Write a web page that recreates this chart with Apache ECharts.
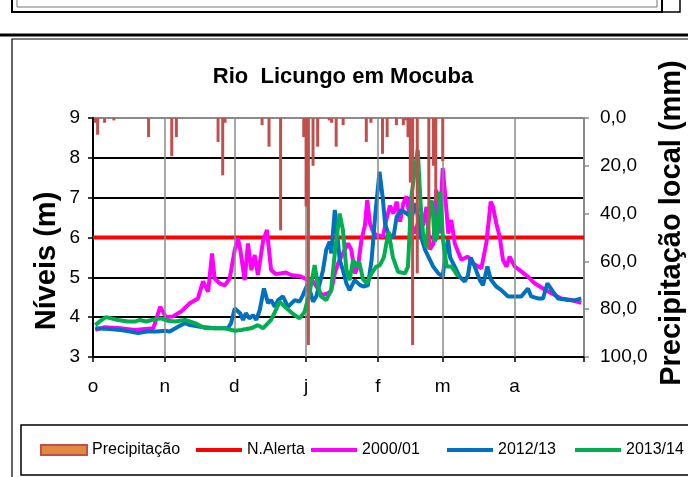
<!DOCTYPE html>
<html>
<head>
<meta charset="utf-8">
<script src="https://cdn.jsdelivr.net/npm/echarts@6/dist/echarts.min.js"></script>
<style>
  html, body { margin: 0; padding: 0; background: #fff; }
  #chart { width: 688px; height: 477px; }
</style>
</head>
<body>
<div id="chart"></div>
<script>
// dias contados a partir de 1 de outubro
const monthStarts = [0, 31, 61, 92, 123, 151, 182, 212];
const monthLabels = ['o', 'n', 'd', 'j', 'f', 'm', 'a'];
const alertLevel = 6;

// precipitação local (mm) [dia, mm]
const precip = [
  [1, 2], [2, 7], [5, 2], [9, 1], [24, 8], [34, 16], [36, 8],
  [54, 10], [56, 24], [57, 2], [73, 3], [76, 12], [81, 47],
  [91, 8], [92, 37], [93, 95], [95, 20], [97, 12], [102, 1], [103, 2],
  [105, 12], [108, 3], [118, 10], [120, 2], [125, 15], [127, 8],
  [131, 3], [134, 3], [135, 1], [136, 8], [137, 27], [138, 95], [140, 65],
  [145, 55], [147, 20], [148, 35], [151, 18]
];

// níveis (m) [dia, nível]
const s2000 = [
  [1, 3.68], [5, 3.75], [12, 3.72], [18, 3.68], [26, 3.72], [29, 4.26], [31.5, 4.0],
  [34.5, 4.02], [38, 4.14], [41.8, 4.35], [45.3, 4.47], [47.5, 4.9], [49.7, 4.64],
  [51.4, 5.6], [52.5, 4.97], [54.7, 4.85], [56.9, 4.8], [59, 4.97], [61.2, 5.69],
  [62.6, 5.98], [63.6, 5.69], [65.5, 4.93], [66.9, 5.85], [68.4, 5.18], [69.8, 5.56],
  [71.2, 5.06], [73.4, 5.9], [75.1, 6.19], [76.9, 5.18], [79, 5.08], [83.3, 5.12],
  [85.5, 5.06], [89.8, 5.02], [92, 4.95], [95, 4.9], [97.2, 4.7], [98.9, 4.55],
  [101.5, 4.6], [102.8, 4.65], [104.4, 5.1], [105.8, 5.35], [107.9, 5.6], [110.1, 5.85],
  [111.5, 5.7], [113.1, 5.1], [114.4, 5.27], [115.9, 5.94], [117.4, 6.3], [118.4, 6.94],
  [119.6, 6.35], [120.9, 6.15], [122.4, 6.05], [123.9, 6.05], [125.2, 6.02], [126.6, 6.43],
  [128.2, 6.8], [129.7, 6.6], [131.1, 6.9], [132.6, 6.4], [134, 6.86], [135.4, 7.03],
  [136.9, 6.44], [139, 6.1], [141.2, 6.55], [142.5, 6.3], [144, 6.77], [145.4, 5.7],
  [147, 5.85], [148.2, 7.2], [149.6, 6.1], [151, 7.74], [152, 7.1], [153.4, 6.1],
  [154.7, 6.44], [156.2, 5.85], [159, 5.44], [161.9, 5.52], [164.1, 5.35], [167.7, 5.23],
  [169.8, 5.85], [170.9, 6.44], [171.7, 6.9], [172.7, 6.77], [174.1, 6.36], [175.6, 6.02],
  [177, 5.44], [178.5, 5.27], [179.9, 5.52], [182.1, 5.27], [184.2, 5.18], [187.8, 5.02],
  [190.7, 4.85], [194.3, 4.72], [197.9, 4.6], [202.2, 4.47], [206.5, 4.43], [210.8, 4.36]
];

const s2012 = [
  [1, 3.72], [7, 3.7], [12, 3.68], [16, 3.64], [19.4, 3.6], [23.3, 3.64], [27.6, 3.64],
  [31, 3.66], [33.2, 3.64], [36.7, 3.76], [39.7, 3.85], [41.9, 3.8], [46.2, 3.76],
  [52.7, 3.72], [58.3, 3.72], [59.6, 3.85], [61.2, 4.22], [63.5, 4.1], [64.8, 3.93],
  [66, 4.1], [67.5, 3.97], [69.1, 4.05], [70.5, 3.93], [72, 4.18], [73.8, 4.72],
  [75.6, 4.35], [76.9, 4.43], [78.5, 4.26], [79.9, 4.43], [82, 4.52], [84.2, 4.26],
  [87.1, 4.43], [89.2, 4.39], [90.7, 4.56], [92.8, 4.85], [95, 4.39], [96.4, 4.52],
  [97.9, 4.85], [99.3, 5.18], [100.7, 5.69], [102.2, 5.9], [102.9, 5.6], [104.4, 6.69],
  [105.1, 6.3], [106.5, 5.44], [107.9, 5.18], [109.4, 4.85], [110.8, 4.68], [113, 4.93],
  [115.2, 4.81], [116.6, 4.77], [118.7, 4.8], [120.3, 5.44], [121.8, 6.52], [123.7, 7.65],
  [125.1, 7.0], [126.1, 6.35], [127.5, 6.1], [129.7, 6.0], [131.1, 6.52], [133.3, 6.69],
  [135.4, 6.6], [137.6, 6.52], [139.5, 6.86], [141.2, 6.1], [143.4, 5.69], [144.8, 5.52],
  [146.9, 5.27], [149.1, 5.1], [151, 5.02], [152.4, 5.69], [153.3, 5.95], [154.2, 5.5],
  [156.2, 5.27], [158.3, 5.02], [160.5, 4.89], [161.9, 5.05], [163.1, 5.5], [164.8, 5.27],
  [167, 4.93], [168.4, 4.8], [170.3, 5.27], [171.7, 4.95], [174.1, 4.77], [176.3, 4.68],
  [179.2, 4.52], [184.9, 4.52], [187.8, 4.72], [189.2, 4.52], [192.1, 4.47], [194.3, 4.47],
  [196.2, 4.85], [198.6, 4.64], [200.8, 4.47], [205.1, 4.43], [208, 4.42], [210.8, 4.47]
];

const s2013 = [
  [1, 3.8], [3, 3.9], [5.6, 4.0], [10.8, 3.93], [15.1, 3.89], [18.1, 3.89], [20.3, 3.93],
  [22.9, 3.89], [26.8, 3.95], [29.4, 3.97], [32.4, 3.91], [35.4, 3.89], [39.7, 3.93],
  [44, 3.85], [48.4, 3.72], [52.7, 3.72], [57, 3.72], [61.2, 3.66], [63.9, 3.68],
  [68.2, 3.72], [71.2, 3.8], [73.4, 3.72], [76.9, 3.93], [79, 4.18], [80.6, 4.39],
  [82.8, 4.26], [87.1, 4.05], [89.2, 3.97], [91.4, 4.14], [93.6, 4.64], [95.7, 5.31],
  [97.2, 4.77], [98.4, 4.52], [100.7, 4.43], [102.8, 4.68], [104.4, 5.6], [106.5, 6.6],
  [107.9, 6.19], [109.4, 5.2], [110.8, 4.93], [112.3, 5.44], [113.7, 5.27], [114.9, 5.4],
  [116.6, 4.95], [118.2, 4.85], [120.3, 5.1], [122.3, 5.27], [123.8, 5.3], [125.6, 5.5],
  [127.6, 6.15], [129.5, 5.5], [131.7, 5.14], [134.7, 5.1], [136, 5.27], [137.4, 7.0],
  [138.6, 7.53], [140.2, 8.2], [141.6, 6.69], [142.5, 6.1], [144, 5.75], [145.6, 6.9],
  [146.5, 6.9], [147.5, 5.9], [148.5, 6.0], [149.8, 7.15], [151.2, 5.9], [152.7, 5.27],
  [154.7, 5.27], [156.2, 5.15], [157.6, 5.02]
];

const chart = echarts.init(document.getElementById('chart'));
const font = "'Liberation Sans', Arial, sans-serif";
const lineIcon = 'path://M0,0 H46 V4 H0 Z';

// uma legenda por item, para acertar o espaçamento da legenda original
const legendItems = [
  { name: 'Precipitação', left: 35, icon: 'rect', itemStyle: { color: '#E0893F', borderColor: '#C0504D', borderWidth: 2 } },
  { name: 'N.Alerta', left: 191, icon: lineIcon },
  { name: '2000/01', left: 306, icon: lineIcon },
  { name: '2012/13', left: 442, icon: lineIcon },
  { name: '2013/14', left: 570, icon: lineIcon }
];

chart.setOption({
  animation: false,
  backgroundColor: '#fff',
  textStyle: { fontFamily: font, color: '#000' },
  title: {
    text: 'Rio  Licungo em Mocuba',
    left: 338, top: 61, textAlign: 'center',
    textStyle: { fontSize: 22, fontWeight: 'bold', fontFamily: font, color: '#000' }
  },
  grid: { left: 93, right: 104, top: 118, bottom: 120 },
  legend: legendItems.map(it => ({
    left: it.left, top: 437,
    itemWidth: 46, itemHeight: 10,
    textStyle: { fontSize: 16, fontFamily: font, color: '#000' },
    data: [{ name: it.name, icon: it.icon, itemStyle: it.itemStyle }]
  })),
  xAxis: {
    type: 'value', min: 0, max: 212,
    axisLine: { onZero: false, lineStyle: { color: '#000', width: 2 } },
    axisTick: { customValues: monthStarts, length: 5, lineStyle: { color: '#000', width: 1.5 } },
    axisLabel: {
      customValues: monthStarts.slice(0, 7), fontSize: 19, margin: 20, color: '#000',
      formatter: v => monthLabels[monthStarts.indexOf(v)] || ''
    },
    splitLine: { show: false }
  },
  yAxis: [{
    type: 'value', min: 3, max: 9, interval: 1,
    axisLine: { show: true, onZero: false, lineStyle: { color: '#000', width: 2 } },
    axisTick: { show: true, length: 5, lineStyle: { color: '#000', width: 1.5 } },
    axisLabel: { fontSize: 19, margin: 13, color: '#000' },
    splitLine: { lineStyle: { color: ['#000', '#000', '#000', '#000', '#000', '#000', '#8a8a8a'], width: 2 } }
  }, {
    type: 'value', position: 'right', inverse: true, min: 0, max: 100, interval: 20,
    axisLine: { show: true, onZero: false, lineStyle: { color: '#8a8a8a', width: 2 } },
    axisTick: { show: true, length: 5, lineStyle: { color: '#8a8a8a', width: 1.5 } },
    axisLabel: { fontSize: 19, margin: 16, color: '#000', formatter: v => v.toFixed(1).replace('.', ',') },
    splitLine: { show: false }
  }],
  graphic: [
    { type: 'rect', shape: { x: 12, y: -4, width: 650, height: 16 }, style: { fill: 'none', stroke: '#000', lineWidth: 2 } },
    { type: 'rect', shape: { x: 17, y: -4, width: 640, height: 11 }, style: { fill: 'none', stroke: '#777', lineWidth: 1 } },
    { type: 'rect', shape: { x: 662, y: -4, width: 18, height: 16 }, style: { fill: 'none', stroke: '#000', lineWidth: 1.5 } },
    { type: 'line', shape: { x1: 0, y1: 35, x2: 688, y2: 35 }, style: { stroke: '#000', lineWidth: 3 } },
    { type: 'polyline', shape: { points: [[12, 480], [12, 39], [690, 39]] }, style: { fill: 'none', stroke: '#000', lineWidth: 1.2 } },
    { type: 'rect', shape: { x: 21, y: 425, width: 680, height: 50 }, style: { fill: 'none', stroke: '#000', lineWidth: 1.5 } },
    {
      type: 'text', x: 47, y: 261, rotation: Math.PI / 2,
      style: { text: 'Níveis (m)', font: 'bold 29px ' + font, fill: '#000', textAlign: 'center', textVerticalAlign: 'middle' }
    },
    {
      type: 'text', x: 672, y: 223, rotation: Math.PI / 2,
      style: { text: 'Precipitação local (mm)', font: 'bold 29px ' + font, fill: '#000', textAlign: 'center', textVerticalAlign: 'middle' }
    }
  ],
  series: [
    {
      name: 'monthGrid', type: 'line', data: [], silent: true, z: 1,
      markLine: {
        silent: true, symbol: 'none', label: { show: false },
        lineStyle: { color: '#8a8a8a', width: 1.5, type: 'solid' },
        data: monthStarts.slice(1, 7).map(d => ({ xAxis: d }))
      }
    },
    {
      name: 'Precipitação', type: 'bar', yAxisIndex: 1, data: precip, barWidth: 3, z: 6,
      itemStyle: { color: '#C0504D' }
    },
    {
      name: 'N.Alerta', type: 'line', data: [[0, alertLevel], [212, alertLevel]], showSymbol: false, z: 2,
      lineStyle: { color: '#FF0000', width: 4 }, itemStyle: { color: '#FF0000' }
    },
    {
      name: '2000/01', type: 'line', data: s2000, showSymbol: false, z: 3,
      lineStyle: { color: '#FF00FF', width: 4 }, itemStyle: { color: '#FF00FF' }
    },
    {
      name: '2012/13', type: 'line', data: s2012, showSymbol: false, z: 4,
      lineStyle: { color: '#0070C0', width: 4 }, itemStyle: { color: '#0070C0' }
    },
    {
      name: '2013/14', type: 'line', data: s2013, showSymbol: false, z: 5,
      lineStyle: { color: '#00B050', width: 4 }, itemStyle: { color: '#00B050' }
    }
  ]
});
</script>
</body>
</html>
